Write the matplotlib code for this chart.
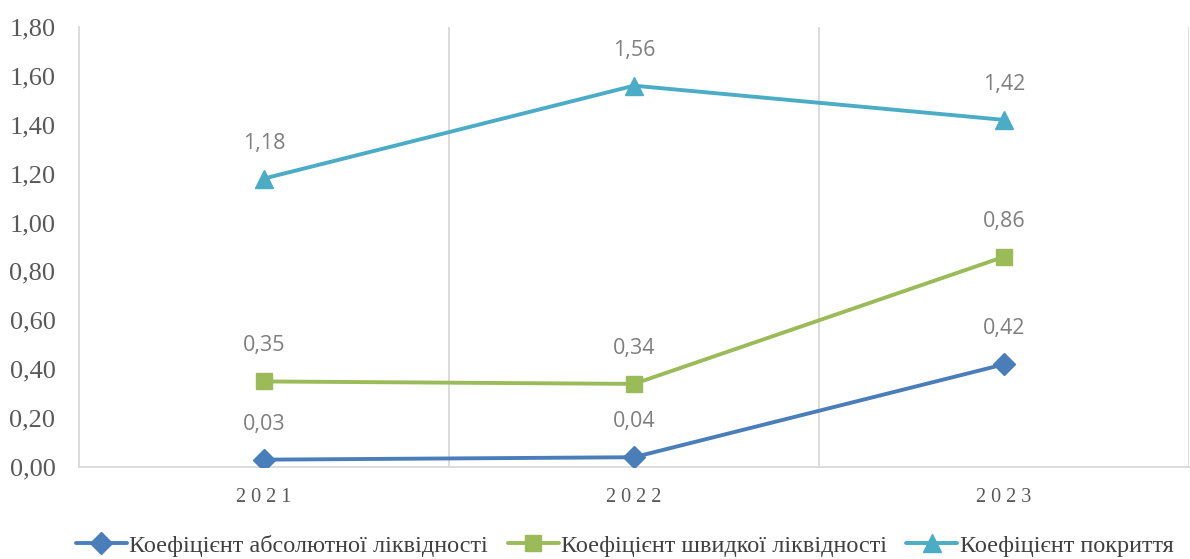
import matplotlib
matplotlib.use('Agg')
import matplotlib.pyplot as plt
from matplotlib.ticker import FuncFormatter

years = ['2021', '2022', '2023']
abs_liq = [0.03, 0.04, 0.42]
quick_liq = [0.35, 0.34, 0.86]
coverage = [1.18, 1.56, 1.42]
series_names = ['Коефіцієнт абсолютної ліквідності',
                'Коефіцієнт швидкої ліквідності',
                'Коефіцієнт покриття']

colors = ['#4a7ebb', '#9bbb59', '#4bacc6']
markers = ['D', 's', '^']
msizes = [11, 12, 13]

fig = plt.figure(figsize=(11.9, 5.59), dpi=100)
ax = fig.add_axes([79/1190, 92/559, 1110/1190, 440/559])

x = list(range(len(years)))
for vals, name, c, m, ms in zip([abs_liq, quick_liq, coverage], series_names,
                                colors, markers, msizes):
    ax.plot(x, vals, color=c, lw=2.8, marker=m, markersize=ms,
            label=name, zorder=3, solid_capstyle='round')
    for xi, v in zip(x, vals):
        ax.annotate(f'{v:.2f}'.replace('.', ','), (xi, v), xytext=(0, 18),
                    textcoords='offset points', ha='center', va='bottom',
                    fontsize=15.5, color='#7f7f7f', family='Open Sans')

ax.set_xlim(-0.5, 2.5)
ax.set_ylim(0, 1.8)
ax.set_yticks([i * 0.2 for i in range(10)])
ax.yaxis.set_major_formatter(FuncFormatter(lambda v, p: f'{v:.2f}'.replace('.', ',')))
ax.set_xticks(x)
ax.set_xticklabels([' '.join(y) for y in years], family='Liberation Serif',
                   fontsize=14.5, color='#595959')
for lbl in ax.get_yticklabels():
    lbl.set_family('Liberation Serif')
    lbl.set_fontsize(19)
    lbl.set_color('#595959')

# category boundaries as vertical grid lines
for b in [0.5, 1.5, 2.5]:
    ax.axvline(b, color='#d9d9d9', lw=1.3, zorder=1)

for s in ['top', 'right']:
    ax.spines[s].set_visible(False)
for s in ['left', 'bottom']:
    ax.spines[s].set_color('#d9d9d9')
    ax.spines[s].set_linewidth(1.3)
ax.tick_params(axis='both', length=0)
ax.tick_params(axis='x', pad=15)
ax.tick_params(axis='y', pad=17)

leg = fig.legend(loc='lower center', bbox_to_anchor=(0.525, -0.035), ncol=3,
                 frameon=False, prop={'family': 'Liberation Serif', 'size': 17.5},
                 handlelength=2.1, columnspacing=0.8, handletextpad=0.1)
for t in leg.get_texts():
    t.set_color('#404040')

fig.savefig('out.png', dpi=100)
